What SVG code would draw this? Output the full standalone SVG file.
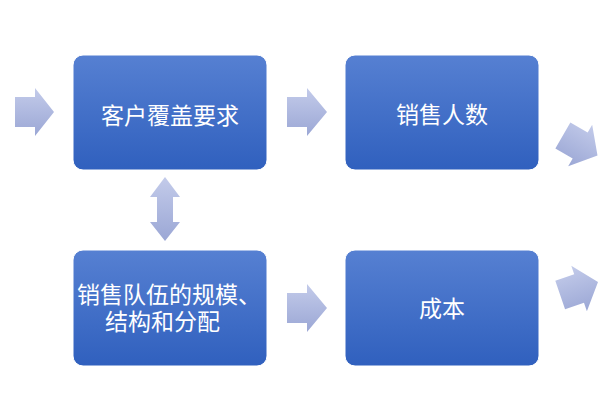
<svg xmlns="http://www.w3.org/2000/svg" width="600" height="400" viewBox="0 0 600 400">
  <defs>
    <linearGradient id="boxGrad" x1="0" y1="0" x2="0" y2="1">
      <stop offset="0" stop-color="#5680d2"/>
      <stop offset="1" stop-color="#3060be"/>
    </linearGradient>
    <linearGradient id="arrowGrad" x1="0" y1="0" x2="0" y2="1">
      <stop offset="0" stop-color="#c3cbea"/>
      <stop offset="1" stop-color="#9ba7d5"/>
    </linearGradient>
    <path id="arrowShape" d="M-40,-15 H-20 V-24 L0,0 L-20,24 V15 H-40 Z"/>
  </defs>
  <style>
    .box { fill: url(#boxGrad); stroke: #ffffff; stroke-width: 1; }
    .arrow { fill: url(#arrowGrad); stroke: none; }
    .label { font-family: "Noto Sans CJK SC", "Noto Sans", sans-serif; font-size: 23px; fill: #ffffff; }
  </style>
  <rect width="600" height="400" fill="#ffffff"/>

  <g id="connectors">
    <polygon class="arrow" points="15,97 35,97 35,88 54,112 35,136 35,127 15,127"/>
    <polygon class="arrow" points="287,97 307,97 307,88 327,112 307,136 307,127 287,127"/>
    <polygon class="arrow" points="287,293 307,293 307,284 327,308 307,332 307,323 287,323"/>
    <polygon class="arrow" points="165,177 180,197 173,197 173,222 180,222 165,241 150,222 157,222 157,197 150,197"/>
    <use href="#arrowShape" class="arrow" transform="translate(597.5,155.5) rotate(30)"/>
    <use href="#arrowShape" class="arrow" transform="translate(598,282) rotate(-19)"/>
  </g>

  <g id="node-customer">
    <rect class="box" x="73" y="55" width="194" height="115" rx="10" ry="10"/>
    <text class="label" x="170" y="124" text-anchor="middle">客户覆盖要求</text>
  </g>
  <g id="node-salescount">
    <rect class="box" x="345" y="55" width="194" height="115" rx="10" ry="10"/>
    <text class="label" x="442" y="123" text-anchor="middle">销售人数</text>
  </g>
  <g id="node-team">
    <rect class="box" x="73" y="250" width="194" height="116" rx="10" ry="10"/>
    <text class="label"><tspan x="77" y="303">销售队伍的规模、</tspan><tspan x="105" y="330">结构和分配</tspan></text>
  </g>
  <g id="node-cost">
    <rect class="box" x="345" y="250" width="194" height="116" rx="10" ry="10"/>
    <text class="label" x="442" y="317" text-anchor="middle">成本</text>
  </g>
</svg>
